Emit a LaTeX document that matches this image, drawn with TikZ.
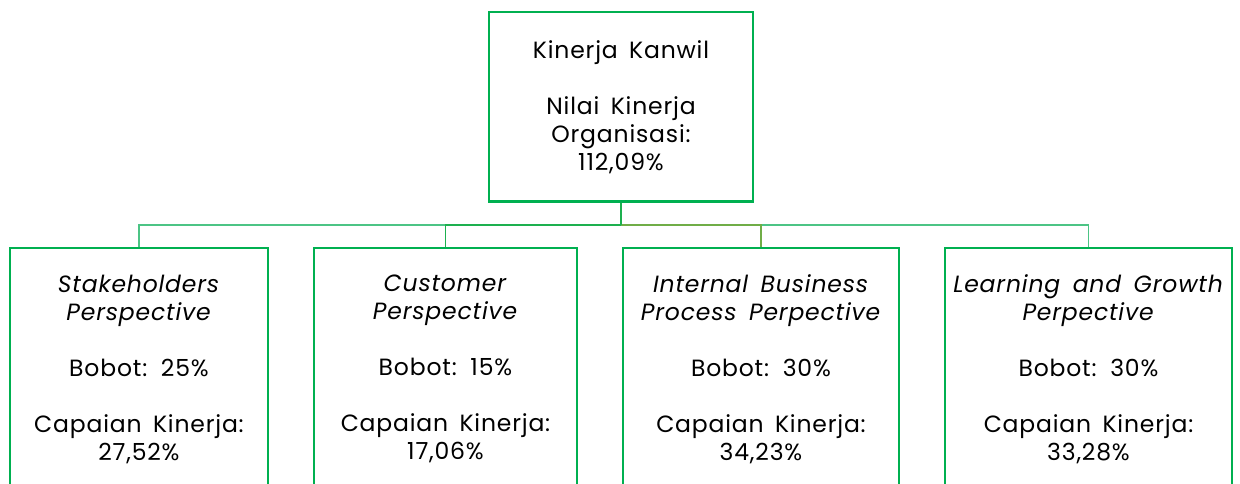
\documentclass[tikz,border=0pt]{standalone}
\usepackage{fontspec}
\setmainfont{Poppins}[LetterSpace=3.5, WordSpace=1.6]
\definecolor{boxgreen}{HTML}{00B050}
\definecolor{lightg}{HTML}{4CC485}
\definecolor{midg}{HTML}{1DB04F}
\definecolor{oliveg}{HTML}{70AD47}
\begin{document}
\begin{tikzpicture}[x=1pt,y=-1pt,
  box/.style={draw=boxgreen, line width=2.5pt, align=center, inner sep=0pt,
    font=\fontsize{23.5}{28}\selectfont},
  conn/.style={line width=1.3pt}]
\useasboundingbox (0,0) rectangle (1240,484);
\clip (0,0) rectangle (1240,484);
\node[box, minimum width=264pt, minimum height=189.5pt] (top) at (621,106.75)
  {Kinerja Kanwil\\[28pt]Nilai Kinerja\\Organisasi:\\112,09\%};
\node[box, minimum width=258pt, minimum height=242pt] (b1) at (139,369)
  {\textit{Stakeholders}\\\textit{Perspective}\\[28pt]Bobot: 25\%\\[28pt]Capaian Kinerja:\\27,52\%};
\node[box, minimum width=263pt, minimum height=242pt] (b2) at (445.5,369)
  {\textit{Customer}\\\textit{Perspective}\\[28pt]Bobot: 15\%\\[28pt]Capaian Kinerja:\\17,06\%};
\node[box, minimum width=276pt, minimum height=242pt] (b3) at (761,369)
  {\textit{Internal Business}\\\textit{Process Perpective}\\[28pt]Bobot: 30\%\\[28pt]Capaian Kinerja:\\34,23\%};
\node[box, minimum width=287pt, minimum height=242pt] (b4) at (1088.5,369)
  {\textit{Learning and Growth}\\\textit{Perpective}\\[28pt]Bobot: 30\%\\[28pt]Capaian Kinerja:\\33,28\%};
\coordinate (bus) at (621,225);
\draw[conn, lightg] (top.south) -- (bus) -| (b1.north);
\draw[conn, lightg] (top.south) -- (bus) -| (b4.north);
\draw[conn, midg] (top.south) -- (bus) -| (b2.north);
\draw[conn, oliveg] (bus) -| (b3.north);
\draw[line width=1.8pt, midg] (top.south) -- (bus);
\end{tikzpicture}
\end{document}
